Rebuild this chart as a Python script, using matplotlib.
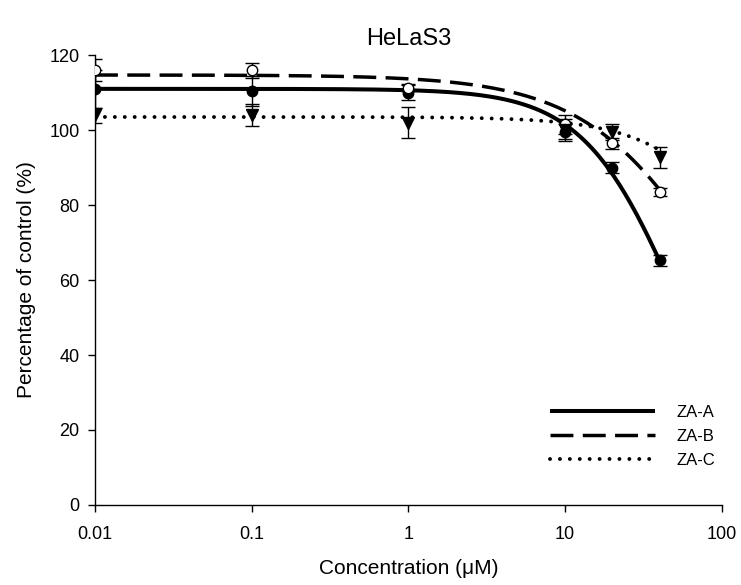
import numpy as np
import matplotlib
matplotlib.use("Agg")
import matplotlib.pyplot as plt

plt.rcParams['font.family'] = ['Liberation Sans', 'DejaVu Sans']

conc = [0.01, 0.1, 1, 10, 20, 40]
za_a = [111.0, 110.5, 110.0, 99.5, 90.0, 65.3]
za_a_err = [5.0, 4.0, 2.0, 2.0, 1.5, 1.5]
za_b = [116.0, 116.0, 111.3, 101.5, 96.5, 83.5]
za_b_err = [3.0, 2.0, 1.0, 2.5, 1.5, 1.0]
za_c = [104.0, 104.0, 102.0, 100.0, 99.5, 92.8]
za_c_err = [2.0, 3.0, 4.1, 3.0, 2.2, 2.8]

# fitted logistic parameters (top, IC50, hill)
fit_a = (111.0, 51.0, 1.45)
fit_b = (114.7, 110.0, 1.0)
fit_c = (103.5, 248.0, 1.3)

labels = ['ZA-A', 'ZA-B', 'ZA-C']

fig = plt.figure(figsize=(7.41, 5.85), dpi=100)
ax = fig.add_axes([0.1282, 0.1368, 0.846, 0.769])

xs = np.logspace(np.log10(0.01), np.log10(40), 300)

def logistic(x, p):
    top, ic, h = p
    return top / (1 + (x / ic) ** h)

ax.plot(xs, logistic(xs, fit_a), color='black', lw=2.9, solid_capstyle='butt', label=labels[0], zorder=3)
ax.plot(xs, logistic(xs, fit_b), color='black', lw=2.5, dashes=(6.6, 2.7), label=labels[1], zorder=3)
ax.plot(xs, logistic(xs, fit_c), color='black', lw=2.8, dashes=(0.01, 2.54), dash_capstyle='round', label=labels[2], zorder=3)

ax.errorbar(conc, za_a, yerr=za_a_err, fmt='o', ms=7.5, mfc='black', mec='black',
            ecolor='black', elinewidth=1, capsize=4.7, capthick=1, zorder=4)
ax.errorbar(conc, za_b, yerr=za_b_err, fmt='o', ms=7.5, mfc='white', mec='black', mew=1,
            ecolor='black', elinewidth=1, capsize=4.7, capthick=1, zorder=4)
ax.errorbar(conc, za_c, yerr=za_c_err, fmt='v', ms=8.5, mfc='black', mec='black',
            ecolor='black', elinewidth=1, capsize=4.7, capthick=1, zorder=4)

ax.set_xscale('log')
ax.set_xlim(0.01, 100)
ax.set_ylim(0, 120)
ax.set_xticks([0.01, 0.1, 1, 10, 100])
ax.set_xticklabels(['0.01', '0.1', '1', '10', '100'])
ax.xaxis.set_minor_locator(matplotlib.ticker.NullLocator())
ax.set_yticks([0, 20, 40, 60, 80, 100, 120])
ax.tick_params(axis='both', direction='out', length=5, width=1, labelsize=13)
ax.tick_params(axis='x', pad=10)
ax.tick_params(axis='y', pad=6)
for s in ['top', 'right']:
    ax.spines[s].set_visible(False)
ax.spines['left'].set_linewidth(1)
ax.spines['bottom'].set_linewidth(1)

ax.set_xlabel('Concentration (\u03bcM)', fontsize=15, labelpad=12)
ax.set_ylabel('Percentage of control (%)', fontsize=15, labelpad=10)
ax.set_title('HeLaS3', fontsize=17, pad=7)

leg = ax.legend(loc='upper left', bbox_to_anchor=(0.742, 0.308), bbox_transform=fig.transFigure,
                frameon=False, fontsize=12, handlelength=6.3, handletextpad=1.3,
                labelspacing=0.55, borderpad=0, borderaxespad=0)

fig.savefig('out.png', dpi=100)
